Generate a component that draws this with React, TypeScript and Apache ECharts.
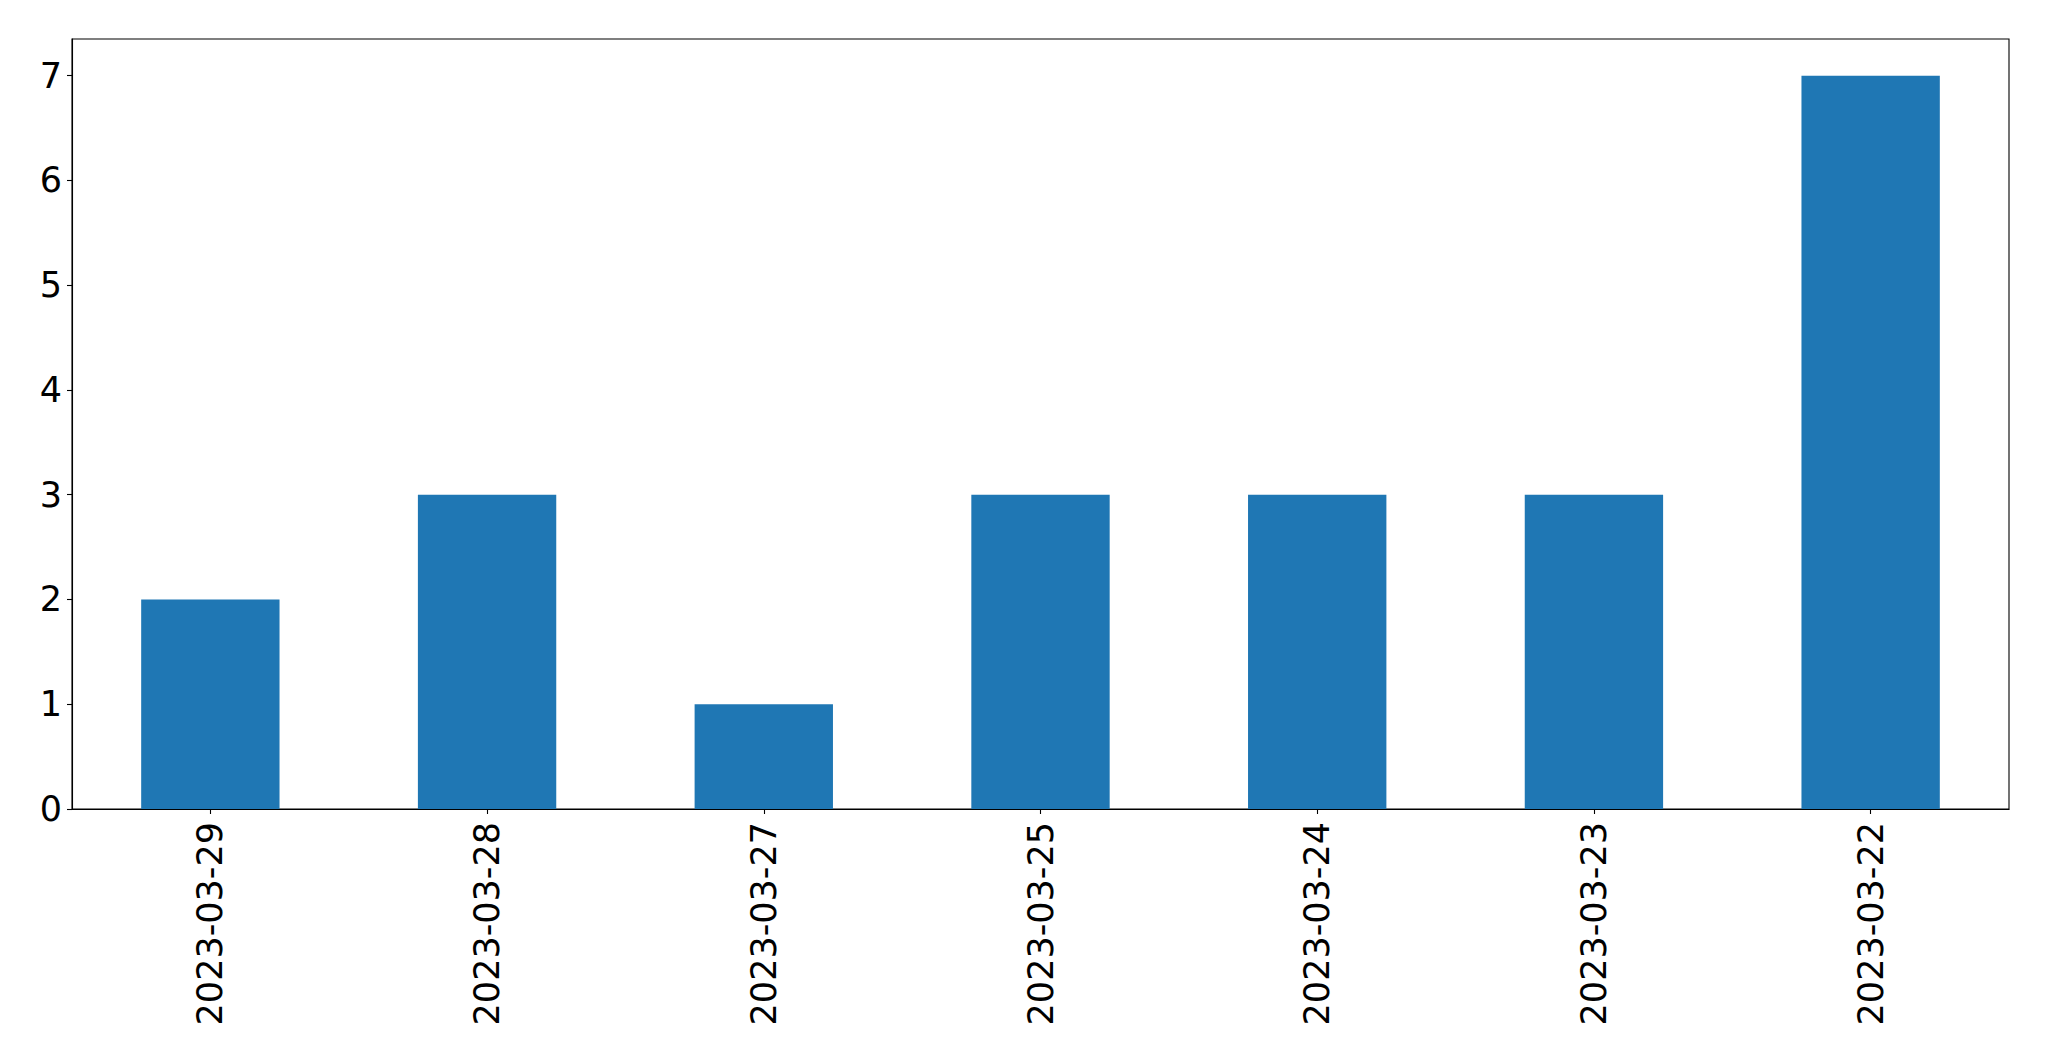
import React, { useEffect, useRef } from "react";
import * as echarts from "echarts";

const categories = ["2023-03-29", "2023-03-28", "2023-03-27", "2023-03-25", "2023-03-24", "2023-03-23", "2023-03-22"];
const values = [2, 3, 1, 3, 3, 3, 7];
const yTicks = [0, 1, 2, 3, 4, 5, 6, 7];

export default function App() {
  const ref = useRef<HTMLDivElement>(null);
  useEffect(() => {
    if (!ref.current) return;
    const chart = echarts.init(ref.current, null, { renderer: "svg" });
    const font = "DejaVu Sans";
    chart.setOption({
      animation: false,
      backgroundColor: "#ffffff",
      grid: {
        left: 72,
        top: 39,
        right: 40,
        bottom: 252,
        show: true,
        borderColor: "#000000",
        borderWidth: 1.1,
        containLabel: false,
      },
      xAxis: {
        type: "category",
        data: categories,
        boundaryGap: true,
        axisLine: { show: true, lineStyle: { color: "#000000", width: 1.1 } },
        axisTick: { show: true, alignWithLabel: true, length: 5, lineStyle: { color: "#000000", width: 1.1 } },
        axisLabel: {
          rotate: 90,
          margin: 13,
          fontSize: 35,
          fontFamily: font,
          color: "#000000",
          interval: 0,
        },
        splitLine: { show: false },
      },
      yAxis: {
        type: "value",
        min: 0,
        max: 7.35,
        interval: 1,
        axisLine: { show: true, lineStyle: { color: "#000000", width: 1.1 } },
        axisTick: { show: true, length: 5, lineStyle: { color: "#000000", width: 1.1 }, customValues: yTicks },
        axisLabel: {
          margin: 10,
          fontSize: 35,
          fontFamily: font,
          color: "#000000",
          customValues: yTicks,
          formatter: (v: number) => (Number.isInteger(v) ? String(v) : ""),
        },
        splitLine: { show: false },
      },
      series: [
        {
          type: "bar",
          data: values,
          barWidth: "50%",
          itemStyle: { color: "#1f77b4" },
        },
      ],
    });
    return () => chart.dispose();
  }, []);
  return (
    <div
      ref={ref}
      style={{ position: "fixed", left: 0, top: 0, width: 2049, height: 1061, background: "#fff" }}
    />
  );
}
